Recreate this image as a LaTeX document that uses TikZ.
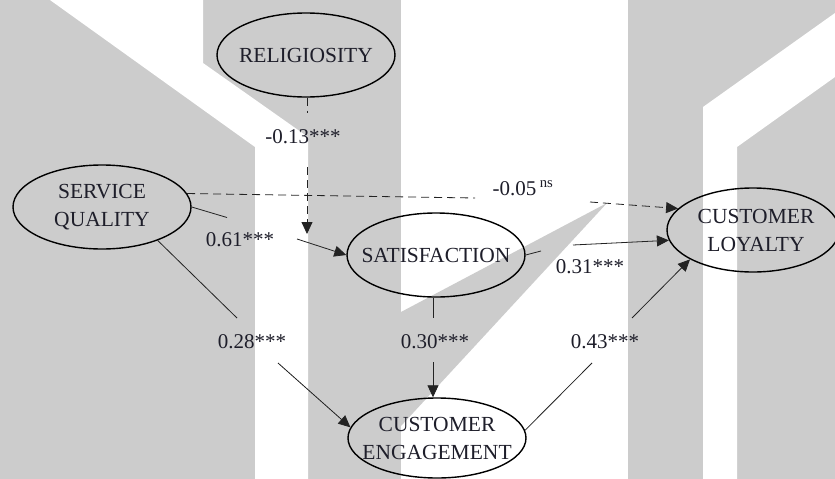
\documentclass[tikz,border=0pt]{standalone}
\usepackage{fontspec}
\setmainfont{Liberation Serif}
\usetikzlibrary{shapes.geometric,arrows.meta}
\definecolor{wmgray}{RGB}{204,204,204}
\definecolor{inkc}{RGB}{30,30,42}
\definecolor{linec}{RGB}{35,35,35}

\begin{document}
\begin{tikzpicture}[x=1pt,y=-1pt,
  ell/.style={draw=black,line width=1.4pt,ellipse,minimum width=178pt,minimum height=84pt,inner sep=0pt},
  txt/.style={font=\fontsize{21.5}{28}\selectfont,text=inkc,align=center,inner sep=0pt},
  lbl/.style={font=\fontsize{21}{24}\selectfont,text=inkc,inner sep=0pt},
  conn/.style={draw=linec,line width=0.8pt},
  tip/.style={-{Triangle[length=12pt,width=11pt]}},
  dsh/.style={dash pattern=on 8pt off 5pt}
]
\useasboundingbox (0,0) rectangle (835,479);

% background watermark
\fill[wmgray] (0,0) rectangle (835,479);
\fill[white] (50,0) -- (203,0) -- (203,63) -- (308,137) -- (308,479) -- (255,479) -- (255,147) -- cycle;
\fill[white] (401,0) rectangle (628,479);
\fill[white] (835,13) -- (835,77) -- (737,147) -- (737,479) -- (703,479) -- (703,107) -- cycle;
\fill[wmgray] (401,312) -- (607,203) -- (401,426) -- cycle;

% constructs
\node[ell] (rel) at (306,55) {};
\node[txt] (relt) at (rel) {RELIGIOSITY};
\node[ell] (sq) at (102,207) {};
\node[txt] (sqt) at (sq) {SERVICE\\QUALITY};
\node[ell] (sat) at (436,255) {};
\node[txt] (satt) at (sat) {SATISFACTION};
\node[ell,minimum width=172pt] (cl) at (753,230) {};
\node[txt] (clt) at ([xshift=3pt]cl.center) {CUSTOMER\\LOYALTY};
\node[ell,minimum height=80pt] (ce) at (437,438) {};
\node[txt] (cet) at (ce) {CUSTOMER\\ENGAGEMENT};

% path coefficients
\node[lbl] (l13) at (303,137) {-0.13***};
\node[lbl] (l61) at (240,240) {0.61***};
\node[lbl] (l05) at (523,188) {-0.05\,\textsuperscript{ns}};
\node[lbl] (l31) at (590,267) {0.31***};
\node[lbl] (l28) at (252,342) {0.28***};
\node[lbl] (l30) at (435,342) {0.30***};
\node[lbl] (l43) at (605,342) {0.43***};

% break points around the labels
\coordinate (m1) at (307,113);
\coordinate (m2) at (307,167);
\coordinate (mtip) at (307,234);
\coordinate (p1) at (227,217.5);
\coordinate (p2) at (297,239);
\coordinate (d1) at (475,198);
\coordinate (d2) at (590,202);
\coordinate (s1) at (541,251);
\coordinate (s2) at (573,245);
\coordinate (q1) at (237,318);
\coordinate (q2) at (278,363);
\coordinate (v1) at (433,318);
\coordinate (v2) at (433,362);
\coordinate (e1) at (592,363);
\coordinate (e2) at (632,318);

% moderating effect of religiosity
\draw[conn,dsh] (rel.south -| m1) -- (m1);
\draw[conn,dsh,tip] (m2) -- (mtip);

% service quality -> satisfaction
\draw[conn] (sq.east) -- (p1);
\draw[conn,tip] (p2) -- (sat.west);

% service quality -> customer loyalty (not significant)
\draw[conn,dsh] (sq.9) -- (d1);
\draw[conn,dsh,tip] (d2) -- (cl.164);

% satisfaction -> customer loyalty
\draw[conn] (sat.east) -- (s1);
\draw[conn,tip] (s2) -- (cl.187);

% service quality -> customer engagement
\draw[conn] (sq.-31) -- (q1);
\draw[conn,tip] (q2) -- (ce.173);

% satisfaction -> customer engagement
\draw[conn] (sat.south -| v1) -- (v1);
\draw[conn,tip] (v2) -- (ce.north -| v2);

% customer engagement -> customer loyalty
\draw[conn] (ce.5) -- (e1);
\draw[conn,tip] (e2) -- (cl.205);
\end{tikzpicture}
\end{document}
